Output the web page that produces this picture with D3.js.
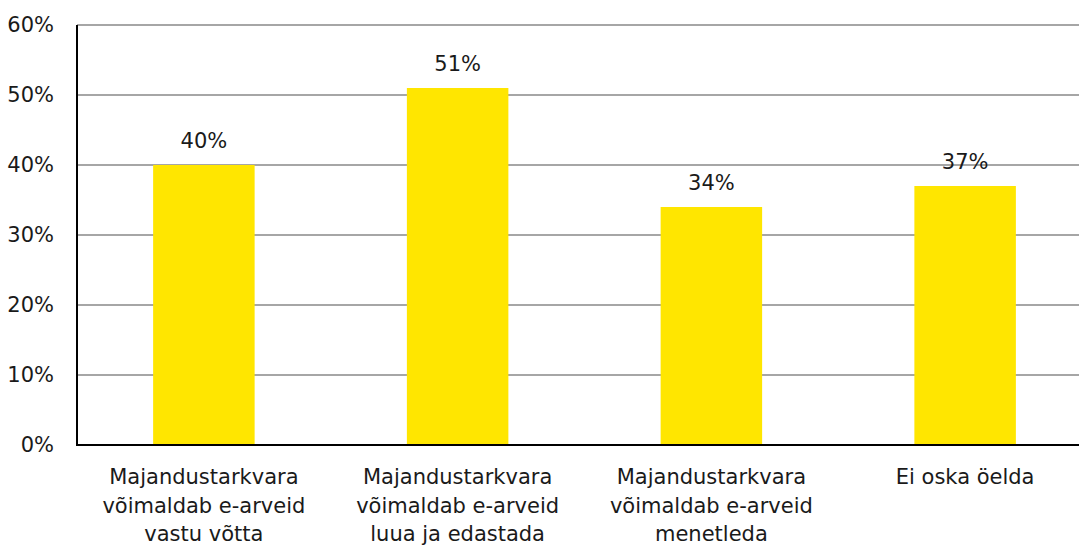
<!DOCTYPE html>
<html><head><meta charset="utf-8">
<script src="https://cdn.jsdelivr.net/npm/d3@7"></script>
<style>html,body{margin:0;padding:0;background:#fff;}svg{display:block;}</style>
</head><body>
<script>
const categories = [
  ["Majandustarkvara","võimaldab e-arveid","vastu võtta"],
  ["Majandustarkvara","võimaldab e-arveid","luua ja edastada"],
  ["Majandustarkvara","võimaldab e-arveid","menetleda"],
  ["Ei oska öelda"]
];
const values = [40, 51, 34, 37];
const yTicks = [0, 10, 20, 30, 40, 50, 60];

(function(){
const W = 1079, H = 545;
const mL = 77, mR = 1092, mT = 25, mB = 445;
const font = "DejaVu Sans";
const fs = 21;

const svg = d3.select("body").append("svg").attr("width", W).attr("height", H);

const x = d3.scaleBand().domain(d3.range(categories.length)).range([mL, mR])
  .paddingInner(0.6).paddingOuter(0.3);
const y = d3.scaleLinear().domain([0, 60]).range([mB, mT]);

svg.append("g").selectAll("line").data(yTicks.filter(d => d > 0)).join("line")
  .attr("x1", mL).attr("x2", W).attr("y1", d => y(d)).attr("y2", d => y(d))
  .attr("stroke", "#888").attr("stroke-width", 1.5);

svg.append("g").selectAll("rect").data(values).join("rect")
  .attr("x", (d, i) => x(i)).attr("width", x.bandwidth())
  .attr("y", d => y(d)).attr("height", d => y(0) - y(d))
  .attr("fill", "#FFE600");

svg.append("g").selectAll("text").data(values).join("text")
  .attr("x", (d, i) => x(i) + x.bandwidth() / 2).attr("y", d => y(d) - 17)
  .attr("text-anchor", "middle").attr("font-family", font).attr("font-size", fs)
  .attr("fill", "#1a1a1a").text(d => d + "%");

const yAxis = d3.axisLeft(y).tickValues(yTicks).tickSize(0).tickPadding(23).tickFormat(d => d + "%");
const ga = svg.append("g").attr("transform", `translate(${mL},0)`).call(yAxis);
ga.select(".domain").remove();
ga.selectAll("text").attr("font-family", font).attr("font-size", fs).attr("fill", "#1a1a1a");

svg.append("line").attr("x1", mL).attr("x2", mL).attr("y1", mT).attr("y2", mB)
  .attr("stroke", "#000").attr("stroke-width", 2);
svg.append("line").attr("x1", mL - 1).attr("x2", W).attr("y1", mB).attr("y2", mB)
  .attr("stroke", "#000").attr("stroke-width", 2);

const cg = svg.append("g").selectAll("text").data(categories).join("text")
  .attr("text-anchor", "middle").attr("font-family", font).attr("font-size", fs).attr("fill", "#1a1a1a");
cg.each(function(lines, i) {
  d3.select(this).selectAll("tspan").data(lines).join("tspan")
    .attr("x", x(i) + x.bandwidth() / 2).attr("y", (d, j) => 484 + j * 28.5).text(d => d);
});
})();
</script>
</body></html>
